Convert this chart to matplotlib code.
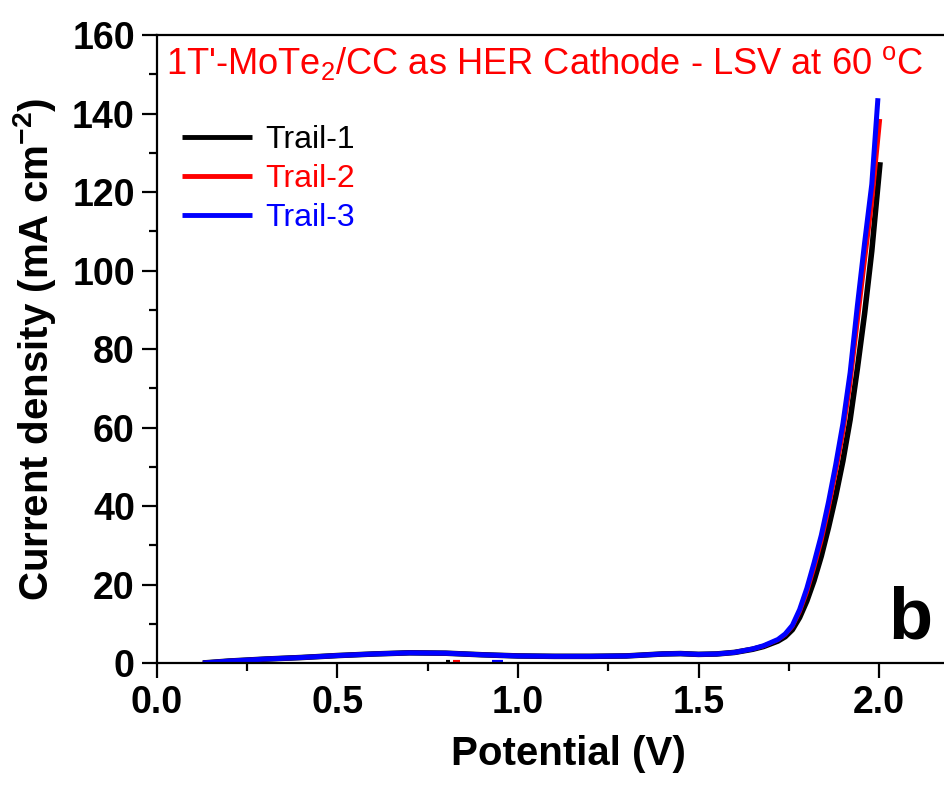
import numpy as np
import matplotlib
matplotlib.use("Agg")
import matplotlib.pyplot as plt
from matplotlib.ticker import MultipleLocator

plt.rcParams['font.family'] = ['Liberation Sans', 'DejaVu Sans']
plt.rcParams['mathtext.default'] = 'regular'

# LSV curves (potential in V, current density in mA cm-2)
v_low = [0.127, 0.2, 0.3, 0.4, 0.5, 0.6, 0.7, 0.8, 0.9, 1.0, 1.1, 1.2, 1.3, 1.4,
         1.45, 1.5, 1.55, 1.6]
j_low = [0.0, 0.5, 1.0, 1.4, 1.9, 2.3, 2.6, 2.5, 2.1, 1.8, 1.7, 1.7, 1.8, 2.3,
         2.4, 2.2, 2.3, 2.7]

v_knee = [1.65, 1.68, 1.70, 1.72, 1.74, 1.76, 1.78, 1.80, 1.82, 1.84, 1.86,
          1.88, 1.90, 1.92, 1.94, 1.96, 1.98]
j_blue_knee = [3.6, 4.4, 5.2, 6.0, 7.4, 9.6, 13.6, 19.0, 25.5, 32.5, 41.0,
               50.5, 61.0, 74.0, 91.0, 107.0, 122.0]
j_red_knee = [3.6, 4.3, 5.1, 5.9, 7.2, 9.3, 13.0, 18.0, 24.2, 31.0, 39.2,
              48.5, 58.5, 71.0, 86.5, 102.0, 117.0]
j_black_knee = [3.5, 4.2, 4.9, 5.6, 6.7, 8.5, 11.6, 15.8, 21.0, 27.2, 34.5,
                42.5, 51.5, 62.0, 75.0, 89.0, 105.0]

# end points of each scan
v_end = {'black': 2.003, 'red': 2.003, 'blue': 1.997}
j_end = {'black': 127.6, 'red': 138.6, 'blue': 143.9}

# little stray segments lying on the zero line
stray_v = {'black': [0.800, 0.812], 'red': [0.820, 0.840], 'blue': [0.928, 0.958]}
stray_j = [0.2, 0.2]

labels = ['Trail-1', 'Trail-2', 'Trail-3']
colors = ['black', 'red', 'blue']
knees = [j_black_knee, j_red_knee, j_blue_knee]

fig = plt.figure(figsize=(9.44, 7.85), dpi=100)
ax = fig.add_axes([0.1663, 0.1554, 0.8337, 0.8])

lws = [4.0, 3.0, 3.6]
for c, lab, jk, lw in zip(colors, labels, knees, lws):
    v = v_low + v_knee + [v_end[c]]
    j = j_low + jk + [j_end[c]]
    ax.plot(v, j, color=c, lw=lw, label=lab, solid_capstyle='butt')
for c in colors:
    ax.plot(stray_v[c], stray_j, color=c, lw=3.0, solid_capstyle='butt')

ax.set_xlim(0, 2.18)
ax.set_ylim(0, 160)
ax.xaxis.set_major_locator(MultipleLocator(0.5))
ax.xaxis.set_minor_locator(MultipleLocator(0.25))
ax.yaxis.set_major_locator(MultipleLocator(20))
ax.yaxis.set_minor_locator(MultipleLocator(10))
ax.tick_params(which='both', direction='out', width=1.6, top=False, right=False)
ax.tick_params(which='major', length=11, labelsize=27, pad=5)
ax.tick_params(which='minor', length=6)
for lbl in ax.get_xticklabels() + ax.get_yticklabels():
    lbl.set_fontweight('bold')
ax.xaxis.set_major_formatter(plt.FormatStrFormatter('%.1f'))
for s in ['left', 'bottom', 'top']:
    ax.spines[s].set_linewidth(1.6)
ax.spines['right'].set_visible(False)

ax.set_xlabel('Potential (V)', fontsize=29, fontweight='bold', labelpad=12)
ax.xaxis.set_label_coords(0.523, -0.115)
ax.set_ylabel('Current density (mA cm$^{-2}$)', fontsize=29, fontweight='bold', labelpad=10)

ax.text(0.011, 0.985, "1T'-MoTe$_2$/CC as HER Cathode - LSV at 60 $^{o}$C",
        transform=ax.transAxes, color='red', fontsize=26.1, va='top', ha='left')
ax.text(0.985, 0.015, 'b', transform=ax.transAxes, fontsize=52, fontweight='bold',
        ha='right', va='bottom')

leg = ax.legend(loc='upper left', bbox_to_anchor=(-0.005, 0.902), frameon=False,
                fontsize=23, handlelength=2.2, handletextpad=0.4, labelspacing=0.28)
for t, c in zip(leg.get_texts(), colors):
    t.set_color(c)
for h in leg.get_lines():
    h.set_linewidth(3.5)

fig.savefig('out.png', dpi=100)
